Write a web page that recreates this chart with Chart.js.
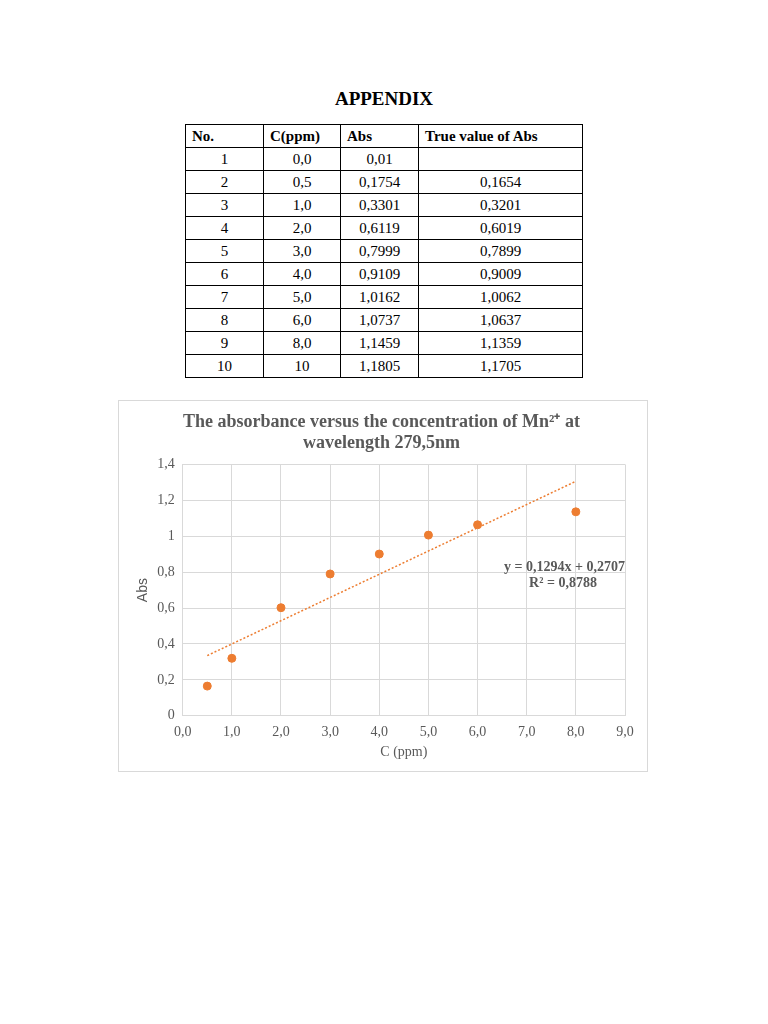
<!DOCTYPE html>
<html>
<head>
<meta charset="utf-8">
<script src="https://cdn.jsdelivr.net/npm/chart.js@4.4.1/dist/chart.umd.min.js"></script>
<style>
  body { margin: 0; background: #fff; font-family: "Liberation Serif", serif; }
  h1 { position: absolute; left: 0; width: 768px; top: 88px; margin: 0; text-align: center; font-size: 19px; font-weight: bold; }
  table { position: absolute; left: 185px; top: 124px; width: 398px; border-collapse: collapse; table-layout: fixed; font-size: 15px; }
  td, th { border: 1px solid #000; height: 22px; padding: 0 6px; text-align: center; }
  th { text-align: left; font-weight: bold; }
  #box { position: absolute; left: 118px; top: 400px; width: 528px; height: 370px; border: 1px solid #d9d9d9; }
</style>
</head>
<body>
<h1>APPENDIX</h1>
<table id="tbl"></table>
<div id="box"><canvas id="chart"></canvas></div>
<script>
// table data
const rowNo = [1, 2, 3, 4, 5, 6, 7, 8, 9, 10];
const concText = ["0,0", "0,5", "1,0", "2,0", "3,0", "4,0", "5,0", "6,0", "8,0", "10"];
const absText = ["0,01", "0,1754", "0,3301", "0,6119", "0,7999", "0,9109", "1,0162", "1,0737", "1,1459", "1,1805"];
const trueText = ["", "0,1654", "0,3201", "0,6019", "0,7899", "0,9009", "1,0062", "1,0637", "1,1359", "1,1705"];

// chart data (true value of Abs vs C)
const conc = [0.5, 1, 2, 3, 4, 5, 6, 8];
const absTrue = [0.1654, 0.3201, 0.6019, 0.7899, 0.9009, 1.0062, 1.0637, 1.1359];
const slope = 0.1294;
const intercept = 0.2707;
const rSquared = "0,8788";

const tbl = document.getElementById("tbl");
let html = '<tr><th style="width:65px">No.</th><th style="width:64px">C(ppm)</th><th style="width:65px">Abs</th><th>True value of Abs</th></tr>';
for (let i = 0; i < rowNo.length; i++) {
  html += "<tr><td>" + rowNo[i] + "</td><td>" + concText[i] + "</td><td>" + absText[i] + "</td><td>" + trueText[i] + "</td></tr>";
}
tbl.innerHTML = html;

const comma = v => String(v).replace(".", ",");
const grey = "#595959";
const serif = "'Liberation Serif', serif";

// equation text placed via the scales
const eqLabel = {
  id: "eqLabel",
  afterDatasetsDraw(chart) {
    const { ctx, scales } = chart;
    const x = scales.x.getPixelForValue(9);
    const y = scales.y.getPixelForValue(0.8);
    ctx.save();
    ctx.fillStyle = grey;
    ctx.font = "bold 14px " + serif;
    ctx.textAlign = "right";
    ctx.textBaseline = "middle";
    ctx.fillText("y = 0,1294x + 0,2707", x, y - 5);
    ctx.textAlign = "center";
    ctx.fillText("R² = " + rSquared, x - 62, y + 11);
    ctx.restore();
  }
};

const x0 = conc[0], x1 = conc[conc.length - 1];
new Chart(document.getElementById("chart"), {
  type: "scatter",
  data: {
    datasets: [
      {
        data: conc.map((c, i) => ({ x: c, y: absTrue[i] })),
        backgroundColor: "#ed7d31",
        borderColor: "#ed7d31",
        pointRadius: 4,
      },
      {
        type: "line",
        data: [{ x: x0, y: slope * x0 + intercept }, { x: x1, y: slope * x1 + intercept }],
        borderColor: "#ed7d31",
        borderWidth: 1.5,
        borderDash: [2, 2],
        pointRadius: 0,
        fill: false,
      },
    ],
  },
  options: {
    responsive: true,
    maintainAspectRatio: false,
    animation: false,
    layout: { padding: { left: 19, right: 22, top: 4, bottom: 10 } },
    plugins: {
      legend: { display: false },
      tooltip: { enabled: false },
      title: {
        display: true,
        text: ["The absorbance versus the concentration of Mn²⁺ at", "wavelength 279,5nm"],
        color: grey,
        font: { family: serif, size: 18, weight: "bold", lineHeight: 1.15 },
        padding: { top: 7, bottom: 11 },
      },
    },
    scales: {
      x: {
        type: "linear",
        min: 0,
        max: 9,
        ticks: { stepSize: 1, color: grey, padding: 8, font: { family: serif, size: 14 }, callback: v => v.toFixed(1).replace(".", ",") },
        grid: { color: "#d9d9d9", drawTicks: false },
        border: { color: "#d9d9d9" },
        title: { display: true, text: "C (ppm)", color: grey, font: { family: serif, size: 14, lineHeight: 0.6 }, padding: { top: 0 } },
      },
      y: {
        min: 0,
        max: 1.4,
        ticks: { stepSize: 0.2, color: grey, padding: 8, font: { family: serif, size: 14 }, callback: v => comma(Math.round(v * 10) / 10) },
        grid: { color: "#d9d9d9", drawTicks: false },
        border: { color: "#d9d9d9" },
        title: { display: true, text: "Abs", color: grey, font: { family: "'Liberation Sans', sans-serif", size: 14, lineHeight: 0.8 }, padding: 0 },
      },
    },
  },
  plugins: [eqLabel],
});
</script>
</body>
</html>
